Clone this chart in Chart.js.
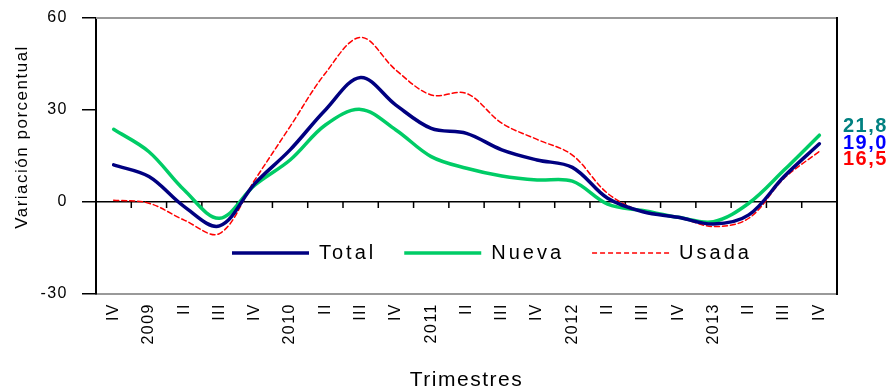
<!DOCTYPE html>
<html lang="es">
<head>
<meta charset="utf-8">
<title>Variación porcentual por trimestre</title>
<script src="https://cdn.jsdelivr.net/npm/chart.js@4.4.1/dist/chart.umd.min.js"></script>
<style>
    html, body { margin: 0; padding: 0; background: #fff; }
    canvas { display: block; }
</style>
</head>
<body>
<canvas id="lineChart" width="895" height="391"></canvas>
<script>
// Trimestres IV-2008 .. IV-2013; el trimestre I lleva el año
const trimestres = ['IV', '2009', 'II', 'III', 'IV', '2010', 'II', 'III', 'IV', '2011', 'II', 'III',
    'IV', '2012', 'II', 'III', 'IV', '2013', 'II', 'III', 'IV'];

const total = [12.1, 8.3, -1.5, -7.8, 6.0, 17.0, 30.0, 40.6, 31.6, 24.0, 22.4, 17.0,
    13.7, 11.3, 1.2, -3.2, -5.0, -7.2, -4.2, 8.3, 19.0];
const nueva = [23.7, 16.4, 3.9, -5.3, 5.5, 13.7, 25.1, 30.2, 23.5, 14.8, 11.0, 8.5,
    7.2, 6.8, -0.7, -2.8, -5.0, -6.4, -0.4, 10.4, 21.8];
const usada = [0.6, -0.4, -5.9, -10.3, 7.2, 24.6, 42.0, 53.7, 43.0, 34.9, 35.4, 25.7,
    20.4, 15.3, 2.8, -3.2, -5.0, -8.0, -5.3, 7.7, 16.5];

const ejeY = { min: -30, max: 60, paso: 30 };
const fuente = '"Liberation Sans", Arial, sans-serif';

const ctx = document.getElementById('lineChart').getContext('2d');

// el texto del gráfico va algo espaciado
const espaciado = {
    id: 'espaciado',
    beforeUpdate(chart) { chart.ctx.letterSpacing = '1.5px'; },
    beforeDraw(chart) { chart.ctx.letterSpacing = '1.5px'; }
};

// marco del área, marcas sobre la línea del cero y título del eje Y
const marco = {
    id: 'marco',
    beforeDatasetsDraw(chart) {
        const { ctx, chartArea: { left, right, top, bottom }, scales: { x, y } } = chart;
        ctx.save();
        ctx.lineWidth = 2;
        ctx.strokeStyle = '#999';
        ctx.beginPath();
        ctx.moveTo(left, top);
        ctx.lineTo(right, top);
        ctx.stroke();
        ctx.strokeStyle = '#000';
        ctx.beginPath();
        ctx.moveTo(right, top - 1);
        ctx.lineTo(right, bottom + 1);
        ctx.stroke();

        const cero = y.getPixelForValue(0);
        ctx.lineWidth = 1.5;
        ctx.beginPath();
        for (let i = 1; i < trimestres.length; i++) {
            const px = (x.getPixelForValue(i - 1) + x.getPixelForValue(i)) / 2;
            ctx.moveTo(px, cero);
            ctx.lineTo(px, cero + 6);
        }
        ctx.stroke();
        ctx.restore();
    },
    afterDraw(chart) {
        const { ctx, chartArea: { top } } = chart;
        ctx.save();
        ctx.translate(22, top + 119);
        ctx.rotate(-Math.PI / 2);
        ctx.font = `17px ${fuente}`;
        ctx.fillStyle = '#000';
        ctx.textAlign = 'center';
        ctx.textBaseline = 'middle';
        ctx.fillText('Variación porcentual', 0, 0);
        ctx.restore();
    }
};

// leyenda dentro del área de trazado
const leyenda = {
    id: 'leyenda',
    afterDatasetsDraw(chart) {
        const { ctx, chartArea: { left, top } } = chart;
        let x = left + 136;
        const y = top + 235;
        ctx.save();
        ctx.font = `20px ${fuente}`;
        ctx.letterSpacing = '3px';
        ctx.textBaseline = 'middle';
        ctx.fillStyle = '#000';
        chart.data.datasets.forEach(ds => {
            ctx.strokeStyle = ds.borderColor;
            ctx.lineWidth = ds.borderWidth;
            ctx.setLineDash(ds.borderDash || []);
            ctx.beginPath();
            ctx.moveTo(x, y);
            ctx.lineTo(x + 77, y);
            ctx.stroke();
            ctx.setLineDash([]);
            ctx.fillText(ds.label, x + 87, y);
            x += 87 + ctx.measureText(ds.label).width + 28;
        });
        ctx.restore();
    }
};

// último valor de cada serie, a la derecha del área
const ultimos = {
    id: 'ultimos',
    afterDraw(chart) {
        const { ctx, chartArea: { right }, scales: { y } } = chart;
        const items = chart.data.datasets.map(ds => ({
            valor: ds.data[ds.data.length - 1],
            color: ds.colorEtiqueta
        })).sort((a, b) => b.valor - a.valor);
        const medio = items.reduce((s, it) => s + y.getPixelForValue(it.valor), 0) / items.length;
        ctx.save();
        ctx.font = `bold 20px ${fuente}`;
        ctx.textAlign = 'left';
        ctx.textBaseline = 'middle';
        items.forEach((it, i) => {
            ctx.fillStyle = it.color;
            ctx.fillText(it.valor.toFixed(1).replace('.', ','), right + 6, medio + (i - 1) * 16.5);
        });
        ctx.restore();
    }
};

const data = {
    labels: trimestres,
    datasets: [{
        label: 'Total',
        data: total,
        borderColor: '#000080',
        colorEtiqueta: '#0000FF',
        borderWidth: 3.5
    }, {
        label: 'Nueva',
        data: nueva,
        borderColor: '#00CC66',
        colorEtiqueta: '#008080',
        borderWidth: 3.5
    }, {
        label: 'Usada',
        data: usada,
        borderColor: '#FF0000',
        colorEtiqueta: '#FF0000',
        borderWidth: 1.5,
        borderDash: [5, 3]
    }]
};

const config = {
    type: 'line',
    data: data,
    options: {
        responsive: false,
        animation: false,
        layout: { padding: { top: 18, right: 58, left: 0, bottom: 0 } },
        elements: {
            point: { radius: 0 },
            line: { tension: 0.35, fill: false, borderCapStyle: 'round' }
        },
        plugins: {
            legend: { display: false },
            tooltip: { enabled: false }
        },
        scales: {
            x: {
                offset: true,
                grid: { display: false, drawTicks: false },
                border: { display: true, color: '#999', width: 2 },
                ticks: {
                    autoSkip: false,
                    minRotation: 90,
                    maxRotation: 90,
                    padding: 9,
                    color: '#000',
                    font: { family: fuente, size: 16 }
                },
                title: {
                    display: true,
                    text: 'Trimestres',
                    color: '#000',
                    padding: 0,
                    font: { family: fuente, size: 21, lineHeight: 1 }
                },
                afterFit(scale) { scale.height = 97; }
            },
            y: {
                min: ejeY.min,
                max: ejeY.max,
                ticks: {
                    stepSize: ejeY.paso,
                    padding: 14,
                    color: '#000',
                    font: { family: fuente, size: 16 }
                },
                grid: {
                    color: c => c.tick && c.tick.value === 0 ? '#000' : 'transparent',
                    tickColor: '#000',
                    tickLength: 14,
                    lineWidth: 1.5
                },
                border: { display: true, color: '#000', width: 2 },
                afterFit(scale) {
                    scale.width = 96;
                    scale.paddingTop = 0;
                    scale.paddingBottom = 0;
                }
            }
        }
    },
    plugins: [espaciado, marco, leyenda, ultimos]
};

new Chart(ctx, config);
</script>
</body>
</html>
